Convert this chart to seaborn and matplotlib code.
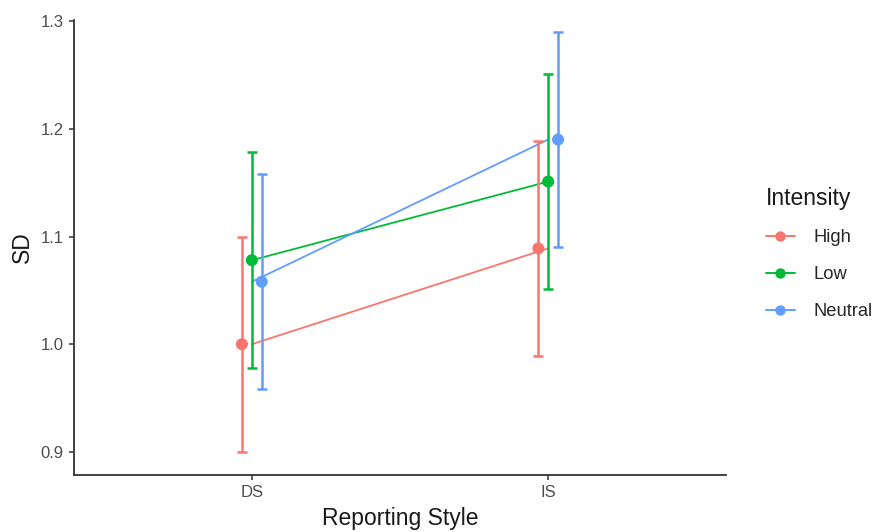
import numpy as np
import pandas as pd
import matplotlib
matplotlib.use("Agg")
import matplotlib.pyplot as plt
import seaborn as sns
from matplotlib.lines import Line2D

styles = ["DS", "IS"]
intensities = ["High", "Low", "Neutral"]
mean_high = [1.000, 1.089]
mean_low = [1.078, 1.151]
mean_neutral = [1.058, 1.190]
err_high = [0.100, 0.100]
err_low = [0.100, 0.100]
err_neutral = [0.100, 0.100]
palette = {"High": "#F8766D", "Low": "#00BA38", "Neutral": "#619CFF"}

rows = []
for inten, means, errs in zip(intensities, [mean_high, mean_low, mean_neutral],
                              [err_high, err_low, err_neutral]):
    for s, m, e in zip(styles, means, errs):
        rows.append({"Reporting Style": s, "Intensity": inten, "SD": m, "err": e})
df = pd.DataFrame(rows)
df["xi"] = df["Reporting Style"].map({s: i for i, s in enumerate(styles)})
dodge_w = 0.1
offsets = {k: (i - (len(intensities) - 1) / 2) * dodge_w / len(intensities)
           for i, k in enumerate(intensities)}
df["xd"] = df["xi"] + df["Intensity"].map(offsets)

sns.set_theme(style="ticks")
plt.rcParams["font.family"] = ["Liberation Sans", "DejaVu Sans"]

fig = plt.figure(figsize=(8.77, 5.32), dpi=100)
ax = fig.add_axes([74 / 877, 57 / 532, (726 - 74) / 877, (512 - 57) / 532])

# undodged connecting lines
sns.lineplot(data=df, x="xi", y="SD", hue="Intensity", palette=palette,
             hue_order=intensities, legend=False, linewidth=1.3, ax=ax,
             zorder=2, estimator=None, sort=True)

# error bars at dodged positions
for inten in intensities:
    sub = df[df["Intensity"] == inten]
    ax.errorbar(sub["xd"], sub["SD"], yerr=sub["err"], fmt="none",
                ecolor=palette[inten], elinewidth=1.8, capsize=3.6,
                capthick=1.8, zorder=3)

sns.scatterplot(data=df, x="xd", y="SD", hue="Intensity", palette=palette,
                hue_order=intensities, s=75, edgecolor="none", legend=False,
                ax=ax, zorder=4)

ax.set_xlim(-0.6, 1.6)
ax.set_ylim(0.8786, 1.301)
ax.set_xticks(range(len(styles)))
ax.set_xticklabels(styles)
ax.set_yticks([0.9, 1.0, 1.1, 1.2, 1.3])
ax.set_yticklabels(["0.9", "1.0", "1.1", "1.2", "1.3"])
ax.set_xlabel("Reporting Style", fontsize=16.5, color="#1a1a1a", labelpad=5)
ax.set_ylabel("SD", fontsize=16.5, color="#1a1a1a", labelpad=5)
ax.tick_params(axis="both", colors="#333333", labelcolor="#4D4D4D",
               labelsize=12, length=3.5, width=1.1, pad=4)
for sp in ["top", "right"]:
    ax.spines[sp].set_visible(False)
for sp in ["left", "bottom"]:
    ax.spines[sp].set_color("#333333")
    ax.spines[sp].set_linewidth(1.3)
ax.set_facecolor("white")
fig.patch.set_facecolor("white")

handles = [Line2D([0], [0], color=palette[k], marker="o", markersize=7.5,
                  linewidth=1.4, markeredgewidth=0) for k in intensities]
leg = fig.legend(handles, intensities, title="Intensity", loc="upper left",
                 bbox_to_anchor=(749 / 877, 1 - 170 / 532), frameon=False,
                 fontsize=13.2, title_fontsize=16.5, handlelength=1.6,
                 labelspacing=1.1, handletextpad=1.0, alignment="left")
leg.get_title().set_color("#1a1a1a")
leg._legend_box.sep = 14

fig.savefig("out.png", dpi=100, facecolor="white")
